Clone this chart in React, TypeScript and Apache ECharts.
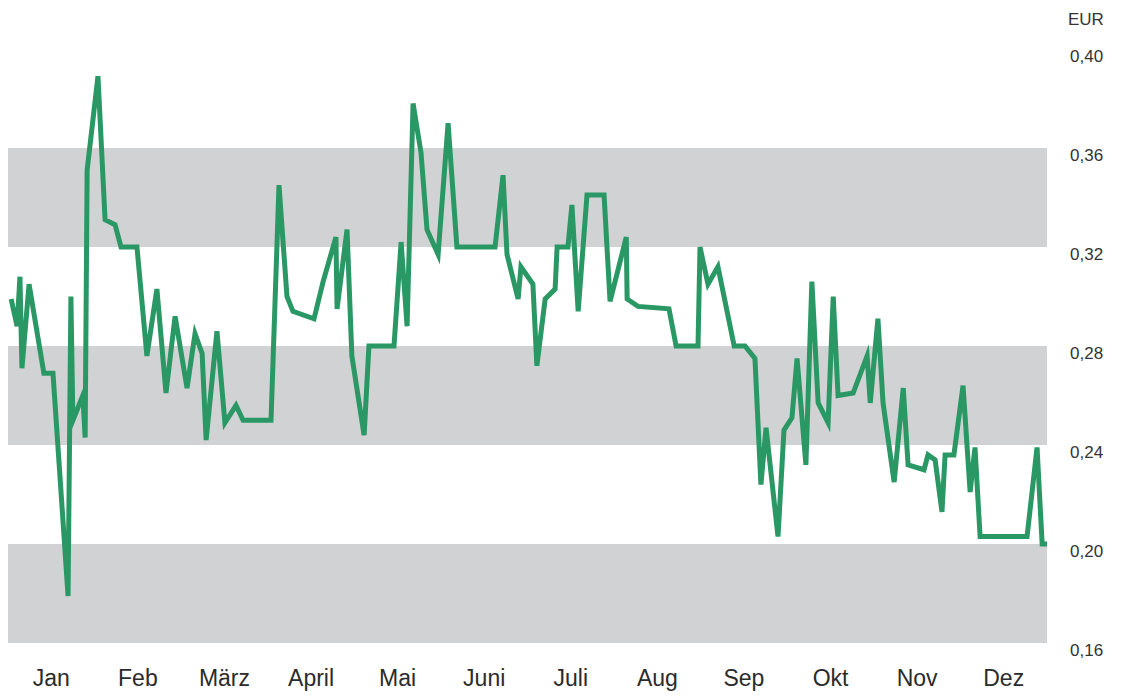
import React, { useEffect, useRef } from "react";
import * as echarts from "echarts";

const months = ["Jan", "Feb", "März", "April", "Mai", "Juni", "Juli", "Aug", "Sep", "Okt", "Nov", "Dez"];

// day of year (0..365)
const days = [
  1.1, 3.2, 4.2, 4.9, 7.4, 12.6, 15.8, 21.1, 22.1, 22.8,
  26.3, 27.1, 27.8, 31.6, 34.1, 37.6, 39.7, 45.3, 48.8, 52.3,
  55.5, 58.7, 62.9, 65.7, 68.2, 69.6, 73.4, 76.2, 80.1, 82.6,
  92.4, 95.2, 98.0, 100.1, 107.5, 110.7, 115.2, 115.6, 119.1, 120.8,
  125.1, 126.8, 135.6, 138.1, 140.2, 142.3, 145.1, 147.2, 151.1, 154.6,
  157.7, 171.1, 173.9, 175.3, 179.2, 180.2, 184.4, 185.8, 188.7, 192.2,
  192.9, 196.7, 198.1, 200.3, 203.4, 209.4, 211.5, 217.2, 217.5, 221.3,
  232.2, 234.7, 242.4, 243.1, 245.9, 249.4, 255.1, 258.9, 262.4, 264.5,
  266.3, 270.5, 272.6, 275.4, 277.2, 280.3, 282.4, 284.6, 288.1, 289.9,
  291.6, 296.9, 301.8, 302.9, 305.6, 307.4, 311.3, 314.5, 316.2, 321.8,
  323.2, 325.7, 328.1, 329.2, 332.3, 335.5, 338.0, 339.7, 341.5, 358.0,
  361.5, 363.3, 365,
];

// price in EUR
const prices = [
  0.299, 0.288, 0.308, 0.271, 0.305, 0.269, 0.269, 0.179, 0.300, 0.250,
  0.260, 0.243, 0.351, 0.389, 0.331, 0.329, 0.320, 0.320, 0.276, 0.303,
  0.261, 0.292, 0.263, 0.285, 0.277, 0.242, 0.286, 0.249, 0.256, 0.250,
  0.250, 0.345, 0.300, 0.294, 0.291, 0.306, 0.324, 0.295, 0.327, 0.276,
  0.244, 0.280, 0.280, 0.322, 0.288, 0.378, 0.358, 0.327, 0.317, 0.370,
  0.320, 0.320, 0.349, 0.317, 0.299, 0.312, 0.305, 0.272, 0.299, 0.303,
  0.320, 0.320, 0.337, 0.294, 0.341, 0.341, 0.298, 0.324, 0.299, 0.296,
  0.295, 0.280, 0.280, 0.320, 0.305, 0.312, 0.280, 0.280, 0.275, 0.224,
  0.247, 0.203, 0.246, 0.251, 0.275, 0.232, 0.306, 0.257, 0.249, 0.300,
  0.260, 0.261, 0.276, 0.257, 0.291, 0.257, 0.225, 0.263, 0.232, 0.230,
  0.236, 0.234, 0.213, 0.236, 0.236, 0.264, 0.221, 0.239, 0.203, 0.203,
  0.239, 0.200, 0.200,
];

const yMin = 0.16;
const yMax = 0.4;
const yStep = 0.04;
const unit = "EUR";

const FONT = "'Liberation Sans', Arial, Helvetica, sans-serif";

export default function App() {
  const ref = useRef<HTMLDivElement>(null);

  useEffect(() => {
    if (!ref.current) return;
    const chart = echarts.init(ref.current, undefined, { renderer: "svg" });
    const data = days.map((d, i) => [d, prices[i]]);
    chart.setOption({
      animation: false,
      backgroundColor: "#ffffff",
      grid: { left: 8, right: 75, top: 49, bottom: 54, containLabel: false },
      graphic: [
        {
          type: "text",
          left: 1068,
          top: 11,
          style: { text: unit, fontSize: 17, fontFamily: FONT, fill: "#333333" },
        },
      ],
      xAxis: [
        {
          type: "value",
          min: 0,
          max: 365,
          show: false,
        },
        {
          type: "category",
          data: months,
          boundaryGap: true,
          position: "bottom",
          axisLine: { show: false },
          axisTick: { show: false },
          splitLine: { show: false },
          axisLabel: {
            interval: 0,
            margin: 23,
            fontSize: 23,
            lineHeight: 24,
            fontFamily: FONT,
            color: "#2b2b2b",
          },
        },
      ],
      yAxis: {
        type: "value",
        position: "right",
        min: yMin,
        max: yMax,
        interval: yStep,
        axisLine: { show: false },
        axisTick: { show: false },
        splitLine: { show: false },
        splitArea: {
          show: true,
          areaStyle: { color: ["#d1d2d4", "#ffffff"] },
        },
        axisLabel: {
          margin: 23,
          align: "left",
          verticalAlign: "top",
          lineHeight: 14,
          fontSize: 17,
          fontFamily: FONT,
          color: "#333333",
          formatter: (v: number) => v.toFixed(2).replace(".", ","),
        },
      },
      series: [
        {
          type: "line",
          xAxisIndex: 0,
          data,
          showSymbol: false,
          symbol: "none",
          lineStyle: { color: "#2a9864", width: 5, join: "miter", miterLimit: 6, cap: "butt" },
          clip: true,
        },
      ],
    });
    return () => chart.dispose();
  }, []);

  return (
    <div
      ref={ref}
      style={{ position: "fixed", left: 0, top: 0, width: 1122, height: 697 }}
    />
  );
}
